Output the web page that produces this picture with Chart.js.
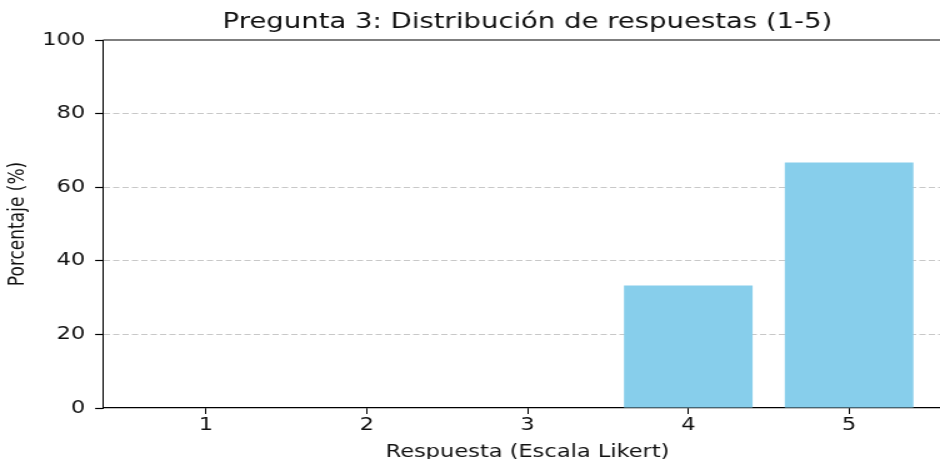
<!DOCTYPE html>
<html>
<head>
<meta charset="utf-8">
<script src="https://cdn.jsdelivr.net/npm/chart.js@4"></script>
<style>
    body { margin: 0; background: #fff; }
    /* the reference is stretched sideways, so the chart is drawn narrower and scaled back out */
    #wrap { width: 940px; height: 459px; overflow: hidden; background: #fff; }
    #inner { width: 768px; height: 470px; transform: scaleX(1.25); transform-origin: 0 0; }
</style>
</head>
<body>
<div id="wrap">
    <div id="inner">
        <canvas id="chart" width="768" height="470"></canvas>
    </div>
</div>
<script>
// Data
const categories = ['1', '2', '3', '4', '5'];
const percentages = [0, 0, 0, 33.3, 66.7];
const yTicks = [0, 20, 40, 60, 80, 100];

const titleText = 'Pregunta 3: Distribución de respuestas (1-5)';
const xTitle = 'Respuesta (Escala Likert)';
const yTitle = 'Porcentaje (%)';

const textColor = '#111';
const fontFamily = "'DejaVu Sans', sans-serif";

// Draw the top spine like matplotlib
const topSpine = {
    id: 'topSpine',
    afterDatasetsDraw(chart) {
        const ctx = chart.ctx;
        const area = chart.chartArea;
        ctx.save();
        ctx.strokeStyle = '#000';
        ctx.lineWidth = 1.2;
        ctx.beginPath();
        ctx.moveTo(area.left, area.top);
        ctx.lineTo(area.right, area.top);
        ctx.stroke();
        ctx.restore();
    }
};

const canvas = document.getElementById('chart');
const chart = new Chart(canvas, {
    type: 'bar',
    data: {
        datasets: [{
            data: categories.map((c, i) => ({ x: i, y: percentages[i] })),
            backgroundColor: '#87CEEB',
            borderWidth: 0,
            categoryPercentage: 1,
            barPercentage: 0.8
        }]
    },
    plugins: [topSpine],
    options: {
        responsive: false,
        animation: false,
        devicePixelRatio: 1,
        layout: { padding: { left: 0, right: 6.4, top: 0, bottom: 0 } },
        plugins: {
            legend: { display: false },
            tooltip: { enabled: false },
            title: {
                display: true,
                text: titleText,
                fullSize: false,
                color: textColor,
                font: { family: fontFamily, size: 22, weight: 'normal' },
                padding: { top: 9, bottom: 4.6 }
            }
        },
        scales: {
            x: {
                type: 'linear',
                min: -0.64,
                max: 4.64,
                offset: false,
                afterFit(scale) { scale.height = 62; },
                afterBuildTicks(scale) {
                    scale.ticks = categories.map((c, i) => ({ value: i }));
                },
                ticks: {
                    color: textColor,
                    padding: 1,
                    font: { family: fontFamily, size: 18 },
                    callback: (value) => categories[value]
                },
                grid: {
                    offset: false,
                    drawOnChartArea: false,
                    drawTicks: true,
                    tickLength: 6,
                    tickColor: '#000',
                    tickWidth: 1
                },
                border: { display: true, color: '#000', width: 1.2 },
                title: {
                    display: true,
                    text: xTitle,
                    color: textColor,
                    font: { family: fontFamily, size: 18 },
                    padding: { top: 0, bottom: 7.2 }
                }
            },
            y: {
                min: 0,
                max: 100,
                afterFit(scale) { scale.width = 82.4; },
                afterBuildTicks(scale) {
                    scale.ticks = yTicks.map(v => ({ value: v }));
                },
                ticks: {
                    color: textColor,
                    padding: 8,
                    font: { family: fontFamily, size: 18 }
                },
                grid: {
                    color: (ctx) => (ctx.tick && (ctx.tick.value === 0 || ctx.tick.value === 100)) ? 'rgba(0,0,0,0)' : 'rgba(176,176,176,0.7)',
                    lineWidth: 1,
                    drawTicks: true,
                    tickLength: 6.3,
                    tickColor: '#000',
                    tickWidth: 1.2
                },
                border: { display: true, color: '#000', width: 1, dash: [5, 2.5] },
                title: {
                    display: true,
                    text: yTitle,
                    color: textColor,
                    font: { family: fontFamily, size: 17 },
                    padding: { top: 4.2, bottom: 0 }
                }
            }
        }
    }
});
</script>
</body>
</html>
